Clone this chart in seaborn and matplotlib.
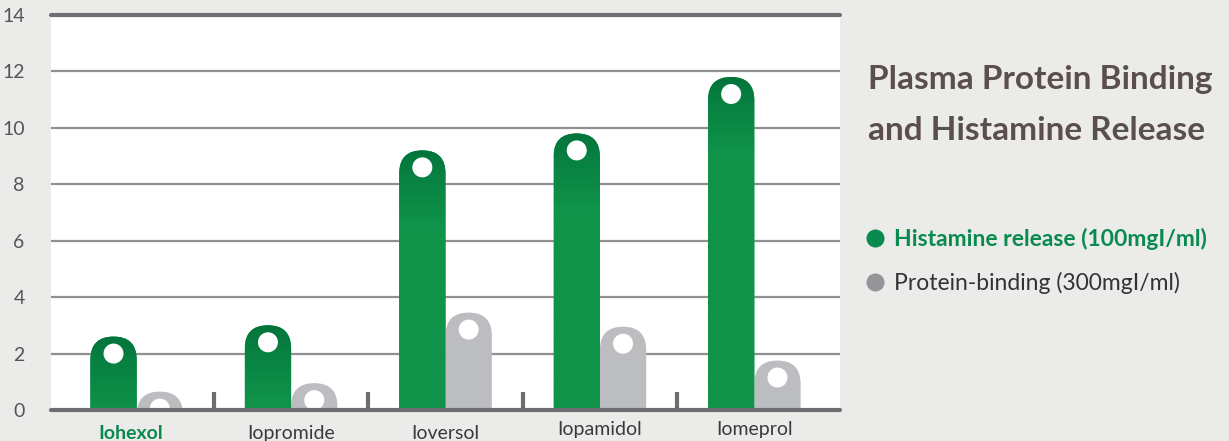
import numpy as np
import pandas as pd
import matplotlib
matplotlib.use("Agg")
import matplotlib.pyplot as plt
import seaborn as sns
from matplotlib.patches import FancyBboxPatch
from matplotlib.lines import Line2D
from matplotlib.colors import to_rgb
import matplotlib.transforms as mtransforms

# ---------------- data ----------------
categories = ["Iohexol", "Iopromide", "Ioversol", "Iopamidol", "Iomeprol"]
histamine = [2.0, 2.4, 8.6, 9.2, 11.2]
protein = [0.05, 0.35, 2.85, 2.35, 1.15]
series = ["Histamine release (100mgI/ml)", "Protein-binding (300mgI/ml)"]
yticks = [0, 2, 4, 6, 8, 10, 12, 14]
title_lines = ["Plasma Protein Binding", "and Histamine Release"]

# ---------------- style ----------------
BG = "#ebebea"
GREEN = "#10944a"
GREEN_DARK = "#02733b"
GRAY = "#bcbdc0"
GREEN_TXT = "#0b8a50"
GRAY_DOT = "#939598"
LINE = "#6d6e71"
GRID = "#909092"

sns.set_theme(style="white")
plt.rcParams['font.family'] = ['Lato', 'DejaVu Sans']

df = pd.DataFrame({
    "category": categories * 2,
    "value": histamine + protein,
    "series": [series[0]] * len(categories) + [series[1]] * len(categories),
})

W, H = 1229, 441
fig = plt.figure(figsize=(W / 100, H / 100), dpi=100, facecolor=BG)
ax = fig.add_axes([51 / W, (H - 410) / H, (840 - 51) / W, (410 - 15) / H])
ax.set_facecolor("white")

sns.barplot(data=df, x="category", y="value", hue="series", order=categories,
            hue_order=series, palette=[GREEN, GRAY], width=0.6, legend=False,
            ax=ax, zorder=3, saturation=1)

XL = (-0.555, 4.555)
ax.set_xlim(*XL)
ax.set_ylim(0, 14)

# pixel scales
ax_w_px = (840 - 51)
ax_h_px = (410 - 15)
px_x = ax_w_px / (XL[1] - XL[0])
px_y = ax_h_px / 14.0
aspect = px_x / px_y
CAP = 17 / px_y  # distance from dot centre to top of rounded cap

dark = np.array(to_rgb(GREEN_DARK))
light = np.array(to_rgb(GREEN))

bars = list(ax.patches)
dots_x, dots_y = [], []
for p in bars:
    x0, w, h = p.get_x(), p.get_width(), p.get_height()
    fc = p.get_facecolor()
    is_green = np.allclose(fc[:3], light, atol=0.02)
    p.remove()
    top = h + CAP
    base = -2.0
    fp = FancyBboxPatch((x0, base), w, top - base,
                        boxstyle=f"round,pad=0,rounding_size={w / 2}",
                        mutation_aspect=aspect, facecolor=fc, edgecolor="none",
                        zorder=3)
    ax.add_patch(fp)
    if is_green:
        ys = np.linspace(top, 0, 200)
        t = np.clip((top - ys) / 2.8, 0, 1)[:, None] ** 0.8
        col = dark * (1 - t) + light * t
        img = np.repeat(col[:, None, :], 2, axis=1)
        im = ax.imshow(img, extent=(x0, x0 + w, 0, top), aspect="auto",
                       zorder=3.5, interpolation="bilinear")
        im.set_clip_path(fp)
    dots_x.append(x0 + w / 2)
    dots_y.append(h)

ax.set_xlim(*XL)
ax.set_ylim(0, 14)

ax.scatter(dots_x, dots_y, s=(20 * 0.72) ** 2, color="white", edgecolor="none",
           zorder=5)

# grid / lines
ax.set_yticks(yticks)
for v in yticks[1:-1]:
    ax.axhline(v, color=GRID, lw=1.6, zorder=1)
ax.axhline(14, color=LINE, lw=3, zorder=1, clip_on=False)
ax.axhline(0, color=LINE, lw=3, zorder=6, clip_on=False)
ax.vlines([i + 0.5 for i in range(len(categories) - 1)], 0, 18 / px_y,
          color=LINE, lw=3, zorder=6)

for s in ax.spines.values():
    s.set_visible(False)

ax.tick_params(axis="y", length=0, pad=19, labelsize=14, labelcolor="#555555")
ax.tick_params(axis="x", length=0, pad=7, labelsize=14, labelcolor="#3a3a3a")
ax.set_xlabel("")
ax.set_ylabel("")
ax.set_xticks(range(len(categories)))
ax.set_xticklabels(categories)
for i, lab in enumerate(ax.get_xticklabels()):
    if i == 0:
        lab.set_color(GREEN_TXT)
        lab.set_fontweight("bold")
    dy = -5 if i < 3 else -1
    dx = -6 if i == 0 else 0
    lab.set_transform(lab.get_transform() +
                      mtransforms.ScaledTranslation(dx / 100, dy / 100, fig.dpi_scale_trans))

# title
fig.text(868 / W, 1 - 80 / H, title_lines[0], fontsize=24, fontweight="bold",
         color="#5a4f4b", va="center", ha="left")
fig.text(868 / W, 1 - 131 / H, title_lines[1], fontsize=24, fontweight="bold",
         color="#5a4f4b", va="center", ha="left")

# legend
handles = [Line2D([], [], marker="o", ls="", ms=13, color="#098a4f", mec="none"),
           Line2D([], [], marker="o", ls="", ms=13, color=GRAY_DOT, mec="none")]
leg = fig.legend(handles, series, loc="upper left",
                 bbox_to_anchor=(864 / W, 1 - 228 / H), frameon=False,
                 fontsize=16.5, handletextpad=0.3, labelspacing=0.95,
                 handlelength=1.0, borderaxespad=0, borderpad=0)
texts = leg.get_texts()
texts[0].set_color(GREEN_TXT)
texts[0].set_fontweight("bold")
texts[1].set_color("#333333")

fig.savefig("out.png", dpi=100, facecolor=BG)
